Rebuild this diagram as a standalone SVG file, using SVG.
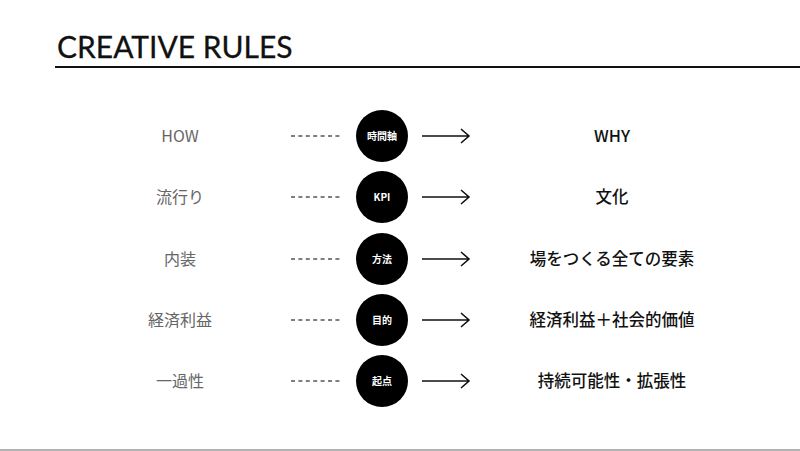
<svg xmlns="http://www.w3.org/2000/svg" width="800" height="451" viewBox="0 0 800 451">
<style>
.title{font-family:"Lato","Noto Sans",sans-serif;font-size:30px;fill:#111;stroke:#111;stroke-width:0.3;}
.lbl{font-family:"Noto Sans CJK JP","Noto Sans",sans-serif;font-size:16px;fill:#666;text-anchor:middle;}
.rlbl{font-family:"Noto Sans CJK JP","Noto Sans",sans-serif;font-size:16.5px;fill:#111;text-anchor:middle;font-weight:500;}
.ctext{font-family:"Noto Sans CJK JP","Noto Sans",sans-serif;font-size:10px;fill:#fff;text-anchor:middle;font-weight:700;}
.dash{stroke:#555;stroke-width:1.6;stroke-dasharray:4 3.4;fill:none;}
.arr{stroke:#111;stroke-width:1.6;fill:none;}
</style>
<rect width="800" height="451" fill="#fff"/>
<text class="title" x="57" y="58">CREATIVE RULES</text>
<line x1="55" y1="67" x2="800" y2="67" stroke="#111" stroke-width="2"/>
<line x1="0" y1="450" x2="800" y2="450" stroke="#b3b3b3" stroke-width="2"/>
<g id="connectors">
<path class="dash" d="M291 136H341M291 197H341M291 259H341M291 320H341M291 381H341"/>
<path class="arr" d="M422 136H469M461 129L469 136L461 143"/>
<path class="arr" d="M422 197H469M461 190L469 197L461 204"/>
<path class="arr" d="M422 259H469M461 252L469 259L461 266"/>
<path class="arr" d="M422 320H469M461 313L469 320L461 327"/>
<path class="arr" d="M422 381H469M461 374L469 381L461 388"/>
</g>
<g id="row1">
<text class="lbl" x="180" y="142">HOW</text>
<circle cx="382" cy="136" r="26" fill="#000"/>
<text class="ctext" x="382" y="139.5">時間軸</text>
<text class="rlbl" x="612" y="142">WHY</text>
</g>
<g id="row2">
<text class="lbl" x="180" y="203">流行り</text>
<circle cx="382" cy="197" r="26" fill="#000"/>
<text class="ctext" x="382" y="200.5">KPI</text>
<text class="rlbl" x="612" y="203">文化</text>
</g>
<g id="row3">
<text class="lbl" x="180" y="265">内装</text>
<circle cx="382" cy="259" r="26" fill="#000"/>
<text class="ctext" x="382" y="262.5">方法</text>
<text class="rlbl" x="612" y="265">場をつくる全ての要素</text>
</g>
<g id="row4">
<text class="lbl" x="180" y="326">経済利益</text>
<circle cx="382" cy="320" r="26" fill="#000"/>
<text class="ctext" x="382" y="323.5">目的</text>
<text class="rlbl" x="612" y="326">経済利益＋社会的価値</text>
</g>
<g id="row5">
<text class="lbl" x="180" y="387">一過性</text>
<circle cx="382" cy="381" r="26" fill="#000"/>
<text class="ctext" x="382" y="384.5">起点</text>
<text class="rlbl" x="612" y="387">持続可能性・拡張性</text>
</g>
</svg>
